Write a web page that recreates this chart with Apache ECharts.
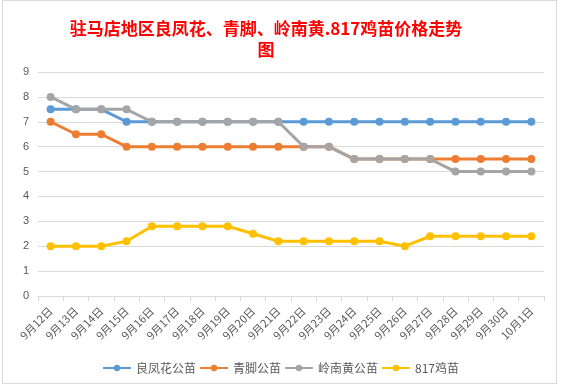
<!DOCTYPE html>
<html><head><meta charset="utf-8">
<script src="https://cdn.jsdelivr.net/npm/echarts@6/dist/echarts.min.js"></script>
<style>html,body{margin:0;padding:0;background:#fff}#c{width:561px;height:388px}</style>
</head><body><div id="c"></div>
<script>
const categories = ['9月12日','9月13日','9月14日','9月15日','9月16日','9月17日','9月18日','9月19日','9月20日','9月21日','9月22日','9月23日','9月24日','9月25日','9月26日','9月27日','9月28日','9月29日','9月30日','10月1日'];
const lfh = [7.5,7.5,7.5,7,7,7,7,7,7,7,7,7,7,7,7,7,7,7,7,7];
const qj = [7,6.5,6.5,6,6,6,6,6,6,6,6,6,5.5,5.5,5.5,5.5,5.5,5.5,5.5,5.5];
const lnh = [8,7.5,7.5,7.5,7,7,7,7,7,7,6,6,5.5,5.5,5.5,5.5,5,5,5,5];
const j817 = [2,2,2,2.2,2.8,2.8,2.8,2.8,2.5,2.2,2.2,2.2,2.2,2.2,2,2.4,2.4,2.4,2.4,2.4];
const yTicks = [0,1,2,3,4,5,6,7,8,9];

const chart = echarts.init(document.getElementById('c'));
function s(name, data, color) {
  return {name, type:'line', data, symbol:'circle', symbolSize:8, showSymbol:true,
    lineStyle:{width:3,color}, itemStyle:{color}, animation:false};
}
chart.setOption({
  backgroundColor:'#fff',
  animation:false,
  graphic:[{type:'rect', shape:{x:2.5, y:0.5, width:554, height:383}, style:{fill:'none', stroke:'#D9D9D9', lineWidth:1}, silent:true}],
  title:{text:'驻马店地区良凤花、青脚、岭南黄.817鸡苗价格走势\n图', left:261, textAlign:'center', top:13,
    textStyle:{color:'#FF0000', fontSize:17, fontWeight:'bold', lineHeight:21, fontFamily:'Noto Sans CJK SC'}},
  grid:{left:38, right:17, top:72, bottom:92, containLabel:false},
  legend:{top:357, left:'center', itemWidth:28, itemHeight:8, itemGap:3,
    textStyle:{color:'#595959', fontSize:12, fontFamily:'Noto Sans CJK SC'},
    data:['良凤花公苗','青脚公苗','岭南黄公苗','817鸡苗']},
  xAxis:{type:'category', data:categories, boundaryGap:true,
    axisLine:{lineStyle:{color:'#D9D9D9'}},
    axisTick:{show:true, length:5, lineStyle:{color:'#D9D9D9'}},
    axisLabel:{rotate:45, color:'#595959', fontSize:11, interval:0, margin:13, fontFamily:'Noto Sans CJK SC'}},
  yAxis:{type:'value', min:yTicks[0], max:yTicks[yTicks.length-1], interval:1,
    axisLine:{show:false}, axisTick:{show:false},
    splitLine:{lineStyle:{color:'#D9D9D9'}},
    axisLabel:{color:'#595959', fontSize:11, margin:9}},
  series:[s('良凤花公苗',lfh,'#5B9BD5'), s('青脚公苗',qj,'#ED7D31'), s('岭南黄公苗',lnh,'#A5A5A5'), s('817鸡苗',j817,'#FFC000')]
});
</script></body></html>
